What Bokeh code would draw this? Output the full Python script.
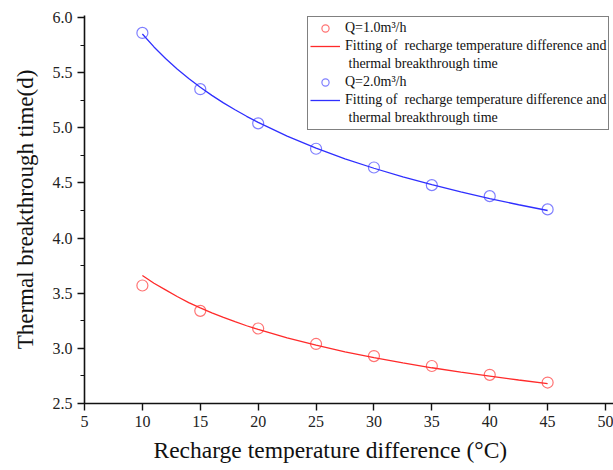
from bokeh.plotting import figure
from bokeh.models import Legend, LegendItem, SingleIntervalTicker, Range1d, CustomJSTickFormatter, Title
from bokeh.embed import file_html
from bokeh.resources import INLINE

# Data
dt = [10, 15, 20, 25, 30, 35, 40, 45]
t_q1 = [3.57, 3.34, 3.18, 3.04, 2.93, 2.84, 2.76, 2.69]
t_q2 = [5.86, 5.35, 5.04, 4.81, 4.64, 4.48, 4.38, 4.26]

# Fitted curves
fit_dt = [10, 11, 12, 13, 14, 15, 16, 17, 18, 19, 20,
          22.5, 25, 27.5, 30, 32.5, 35, 37.5, 40, 42.5, 45]
fit_q1 = [3.66, 3.59, 3.53, 3.47, 3.415, 3.367, 3.322, 3.281, 3.242, 3.205, 3.172,
          3.095, 3.029, 2.969, 2.916, 2.868, 2.824, 2.784, 2.748, 2.713, 2.681]
fit_q2 = [5.85, 5.733, 5.628, 5.533, 5.447, 5.367, 5.294, 5.226, 5.163, 5.104, 5.049,
          4.924, 4.815, 4.719, 4.633, 4.554, 4.484, 4.419, 4.358, 4.302, 4.25]

label_q1 = "Q=1.0m³/h"
label_q2 = "Q=2.0m³/h"
label_fit_1 = "Fitting of  recharge temperature difference and"
label_fit_2 = " thermal breakthrough time"
x_title = "Recharge temperature difference (°C)"
y_title = "Thermal breakthrough time(d)"

FONT = "Liberation Serif"

p = figure(width=613, height=470, output_backend="svg", toolbar_location=None,
           x_range=Range1d(5, 50.69), y_range=Range1d(2.5, 6.018),
           min_border_left=84, min_border_right=0, min_border_top=15, min_border_bottom=67)
p.outline_line_color = None
p.xgrid.visible = False
p.ygrid.visible = False

r1c = p.scatter(dt, t_q1, marker="circle", size=11, fill_color=None,
                line_color="#ff0000", line_alpha=0.55, line_width=1.2)
r1l = p.line(fit_dt, fit_q1, line_color="#ff2a2a", line_width=1.3)
r2c = p.scatter(dt, t_q2, marker="circle", size=11, fill_color=None,
                line_color="#0000ff", line_alpha=0.5, line_width=1.2)
r2l = p.line(fit_dt, fit_q2, line_color="#2f2fff", line_width=1.3)
blank = p.line(x=[], y=[], line_alpha=0)

# Axes
p.xaxis.ticker = SingleIntervalTicker(interval=5, num_minor_ticks=0)
p.yaxis.ticker = SingleIntervalTicker(interval=0.5, num_minor_ticks=2)
p.yaxis.formatter = CustomJSTickFormatter(code="return tick.toFixed(1);")

for ax in (p.xaxis[0], p.yaxis[0]):
    ax.axis_line_color = "#111111"
    ax.axis_line_width = 1.6
    ax.major_tick_line_color = "#111111"
    ax.major_tick_line_width = 1.4
    ax.minor_tick_line_color = "#111111"
    ax.minor_tick_line_width = 1.2
    ax.major_tick_in = 0
    ax.major_tick_out = 7
    ax.minor_tick_in = 0
    ax.minor_tick_out = 4
    ax.major_label_text_font = FONT
    ax.major_label_text_font_size = "16px"
    ax.major_label_text_color = "#222222"
    ax.major_label_standoff = 5
    ax.axis_label_text_font = FONT
    ax.axis_label_text_font_size = "23px"
    ax.axis_label_text_font_style = "normal"
    ax.axis_label_text_color = "#111111"

p.yaxis.axis_label = y_title
p.yaxis.axis_label_standoff = 12

# x-axis title, placed slightly left of the frame centre as in the reference
xt = Title(text=x_title, align="left", offset=69, text_font=FONT,
           text_font_size="23.5px", text_font_style="normal", text_color="#111111",
           standoff=11)
p.add_layout(xt, "below")

legend = Legend(items=[
    LegendItem(label=label_q1, renderers=[r1c]),
    LegendItem(label=label_fit_1, renderers=[r1l]),
    LegendItem(label=label_fit_2, renderers=[blank]),
    LegendItem(label=label_q2, renderers=[r2c]),
    LegendItem(label=label_fit_1, renderers=[r2l]),
    LegendItem(label=label_fit_2, renderers=[blank]),
], location=(223, 273))
legend.padding = 2
legend.margin = 0
legend.spacing = 0
legend.label_height = 18
legend.glyph_height = 18
legend.glyph_width = 30
legend.label_standoff = 5
legend.border_line_color = "#808080"
legend.border_line_alpha = 1.0
legend.border_line_width = 1.3
legend.background_fill_color = "white"
legend.background_fill_alpha = 1
legend.label_text_font = FONT
legend.label_text_font_size = "14px"
legend.label_text_color = "#111111"
p.add_layout(legend)

open("out.html", "w").write(file_html(p, INLINE))
